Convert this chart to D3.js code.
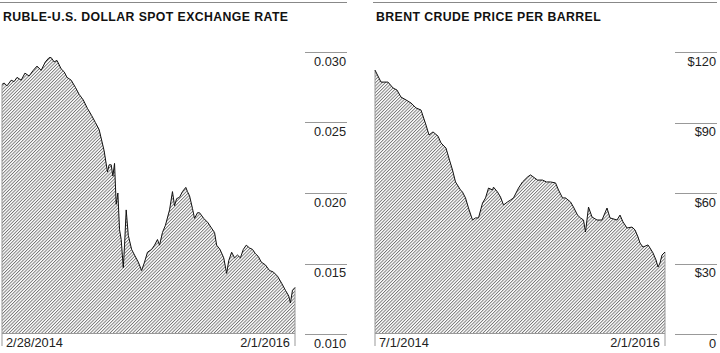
<!DOCTYPE html>
<html>
<head>
<meta charset="utf-8">
<script src="https://cdn.jsdelivr.net/npm/d3@7"></script>
<style>
  body { margin: 0; background: #fff; }
  svg { display: block; font-family: "Liberation Sans", Arial, sans-serif; }
  .title { font-weight: bold; font-size: 12.3px; fill: #111; letter-spacing: 0.4px; }
  .tick-label { font-size: 12.8px; fill: #222; }
</style>
</head>
<body>
<div id="chart"></div>
<script>
// ruble / dollar
let rubleDates = ["2014-02-28","2014-03-05","2014-03-12","2014-03-22","2014-03-29","2014-04-05","2014-04-15","2014-04-24","2014-05-04","2014-05-14","2014-05-23","2014-06-02","2014-06-12","2014-06-21","2014-06-26","2014-07-03","2014-07-10","2014-07-20","2014-07-27","2014-08-03","2014-08-13","2014-08-23","2014-09-01","2014-09-11","2014-09-21","2014-10-01","2014-10-10","2014-10-19","2014-10-31","2014-11-08","2014-11-12","2014-11-17","2014-11-21","2014-11-25","2014-11-29","2014-12-03","2014-12-07","2014-12-11","2014-12-16","2014-12-19","2014-12-23","2014-12-28","2015-01-05","2015-01-12","2015-01-21","2015-01-29","2015-02-05","2015-02-12","2015-02-22","2015-03-01","2015-03-08","2015-03-13","2015-03-20","2015-03-27","2015-04-06","2015-04-13","2015-04-18","2015-04-23","2015-04-30","2015-05-07","2015-05-15","2015-05-19","2015-05-24","2015-05-31","2015-06-05","2015-06-12","2015-06-17","2015-06-27","2015-07-07","2015-07-16","2015-07-23","2015-07-28","2015-08-05","2015-08-14","2015-08-21","2015-08-26","2015-09-02","2015-09-09","2015-09-16","2015-09-23","2015-09-30","2015-10-07","2015-10-15","2015-10-22","2015-10-29","2015-11-05","2015-11-12","2015-11-22","2015-12-02","2015-12-11","2015-12-21","2015-12-31","2016-01-09","2016-01-17","2016-01-21","2016-01-26","2016-02-01"];
let rubleValues = [0.0277,0.0278,0.0276,0.0280,0.0279,0.0282,0.0280,0.0285,0.0283,0.0287,0.0290,0.0287,0.0293,0.0296,0.0296,0.0293,0.0294,0.0288,0.0286,0.0282,0.0280,0.0275,0.0270,0.0266,0.0260,0.0255,0.0250,0.0245,0.0230,0.0215,0.0220,0.0220,0.0212,0.0221,0.0192,0.0200,0.0174,0.0167,0.0147,0.0163,0.0188,0.0170,0.0160,0.0156,0.0151,0.0145,0.0151,0.0158,0.0160,0.0163,0.0167,0.0163,0.0172,0.0177,0.0188,0.0201,0.0191,0.0196,0.0197,0.0201,0.0204,0.0201,0.0198,0.0189,0.0182,0.0186,0.0186,0.0182,0.0179,0.0175,0.0172,0.0163,0.0160,0.0154,0.0143,0.0152,0.0158,0.0154,0.0156,0.0154,0.0160,0.0163,0.0161,0.0160,0.0157,0.0155,0.0151,0.0149,0.0145,0.0144,0.0141,0.0136,0.0131,0.0127,0.0122,0.0131,0.0133];
let rubleTicks = [0.010, 0.015, 0.020, 0.025, 0.030];
let rubleTickLabels = ["0.010", "0.015", "0.020", "0.025", "0.030"];
let rubleDateLabels = ["2/28/2014", "2/1/2016"];

// brent crude, dollars per barrel
let brentDates = ["2014-07-01","2014-07-13","2014-07-27","2014-08-06","2014-08-14","2014-08-22","2014-09-01","2014-09-11","2014-09-21","2014-10-01","2014-10-11","2014-10-17","2014-10-25","2014-11-04","2014-11-10","2014-11-20","2014-11-27","2014-12-03","2014-12-09","2014-12-19","2014-12-23","2014-12-29","2015-01-04","2015-01-12","2015-01-18","2015-01-24","2015-02-01","2015-02-07","2015-02-13","2015-02-21","2015-02-23","2015-03-03","2015-03-09","2015-03-15","2015-03-23","2015-03-29","2015-04-04","2015-04-14","2015-04-22","2015-05-02","2015-05-08","2015-05-22","2015-06-01","2015-06-09","2015-06-17","2015-06-27","2015-07-03","2015-07-11","2015-07-17","2015-07-27","2015-08-02","2015-08-10","2015-08-16","2015-08-22","2015-08-26","2015-09-01","2015-09-08","2015-09-18","2015-09-28","2015-10-08","2015-10-14","2015-10-28","2015-11-03","2015-11-09","2015-11-17","2015-11-27","2015-12-03","2015-12-09","2015-12-13","2015-12-19","2015-12-29","2016-01-02","2016-01-08","2016-01-14","2016-01-18","2016-01-22","2016-01-26","2016-02-01"];
let brentValues = [112.3,107.2,107.2,104.7,103.8,100.8,99.6,98.3,96.2,95.3,88.9,84.7,86.0,84.2,81.3,79.1,74.0,69.8,64.7,61.3,60.4,57.9,53.6,48.5,49.4,49.4,55.7,57.9,62.1,61.3,62.5,60.4,58.3,54.9,56.2,57.0,57.9,62.1,64.7,66.8,67.7,65.5,65.5,64.7,64.7,64.3,61.3,57.9,57.9,56.2,54.0,50.6,49.4,48.5,43.4,54.0,49.8,48.5,48.5,53.6,49.4,48.5,50.6,47.7,45.1,45.5,44.3,41.3,38.7,37.0,37.9,36.6,34.5,31.5,28.5,30.2,33.6,34.9];
let brentTicks = [0, 30, 60, 90, 120];
let brentTickLabels = ["0", "$30", "$60", "$90", "$120"];
let brentDateLabels = ["7/1/2014", "2/1/2016"];

let parseDate = d3.timeParse("%Y-%m-%d");

let svg = d3.select("#chart")
    .append("svg")
    .attr("width", 720)
    .attr("height", 353);

// diagonal hatch used under both lines
let defs = svg.append("defs");
defs.append("pattern")
    .attr("id", "hatch")
    .attr("patternUnits", "userSpaceOnUse")
    .attr("width", 2.3)
    .attr("height", 4)
    .attr("patternTransform", "rotate(45)")
    .append("line")
    .attr("x1", 0.5).attr("y1", 0)
    .attr("x2", 0.5).attr("y2", 4)
    .attr("stroke", "#333")
    .attr("stroke-width", 0.7);

function drawPanel(left, width, title, dates, values, ticks, tickLabels, dateLabels) {
    let g = svg.append("g").attr("transform", "translate(" + left + ",0)");
    let plotW = width - 52;
    let top = 52, bottom = 334;

    let data = dates.map(function(d, i) { return {date: parseDate(d), value: values[i]}; });

    let x = d3.scaleTime().range([2, plotW]);
    let y = d3.scaleLinear().range([bottom, top]);
    x.domain(d3.extent(data, function(d) { return d.date; }));
    y.domain([ticks[0], ticks[ticks.length - 1]]);

    // top rule and title
    g.append("line")
        .attr("x1", 0).attr("x2", width)
        .attr("y1", 2.5).attr("y2", 2.5)
        .attr("stroke", "#888").attr("stroke-width", 1);
    g.append("text")
        .attr("class", "title")
        .attr("x", 3).attr("y", 20.5)
        .text(title);

    // hatched area
    let area = d3.area()
        .x(function(d) { return x(d.date); })
        .y0(y(ticks[0]))
        .y1(function(d) { return y(d.value); });
    g.append("path")
        .datum(data)
        .attr("fill", "url(#hatch)")
        .attr("d", area);

    // edges of the area, they drop below the baseline as date ticks
    let first = data[0], last = data[data.length - 1];
    g.append("line")
        .attr("x1", x(first.date)).attr("x2", x(first.date))
        .attr("y1", y(first.value)).attr("y2", 346)
        .attr("stroke", "#999").attr("stroke-width", 1);
    g.append("line")
        .attr("x1", x(last.date)).attr("x2", x(last.date))
        .attr("y1", y(last.value)).attr("y2", 346)
        .attr("stroke", "#999").attr("stroke-width", 1);
    g.append("line")
        .attr("x1", x(first.date)).attr("x2", x(last.date))
        .attr("y1", y(ticks[0]) - 0.5).attr("y2", y(ticks[0]) - 0.5)
        .attr("stroke", "#999").attr("stroke-width", 1);

    let line = d3.line()
        .x(function(d) { return x(d.date); })
        .y(function(d) { return y(d.value); });
    g.append("path")
        .datum(data)
        .attr("fill", "none")
        .attr("stroke", "#111")
        .attr("stroke-width", 1)
        .attr("stroke-linejoin", "round")
        .attr("d", line);

    // date labels
    g.append("text")
        .attr("class", "tick-label")
        .attr("x", x(first.date) + 4).attr("y", 346.5)
        .text(dateLabels[0]);
    g.append("text")
        .attr("class", "tick-label")
        .attr("x", x(last.date) - 5).attr("y", 346.5)
        .attr("text-anchor", "end")
        .text(dateLabels[1]);

    // right axis: short rule above each label
    let axis = g.append("g");
    axis.selectAll("line")
        .data(ticks)
        .enter().append("line")
        .attr("x1", plotW + 10).attr("x2", width)
        .attr("y1", function(d) { return Math.round(y(d)) + 0.5; })
        .attr("y2", function(d) { return Math.round(y(d)) + 0.5; })
        .attr("stroke", "#999").attr("stroke-width", 1);
    axis.selectAll("text")
        .data(ticks)
        .enter().append("text")
        .attr("class", "tick-label")
        .attr("x", width - 1)
        .attr("y", function(d) { return y(d) + 13.5; })
        .attr("text-anchor", "end")
        .text(function(d, i) { return tickLabels[i]; });
}

drawPanel(0, 347, "RUBLE-U.S. DOLLAR SPOT EXCHANGE RATE", rubleDates, rubleValues, rubleTicks, rubleTickLabels, rubleDateLabels);
drawPanel(373, 344, "BRENT CRUDE PRICE PER BARREL", brentDates, brentValues, brentTicks, brentTickLabels, brentDateLabels);
</script>
</body>
</html>
